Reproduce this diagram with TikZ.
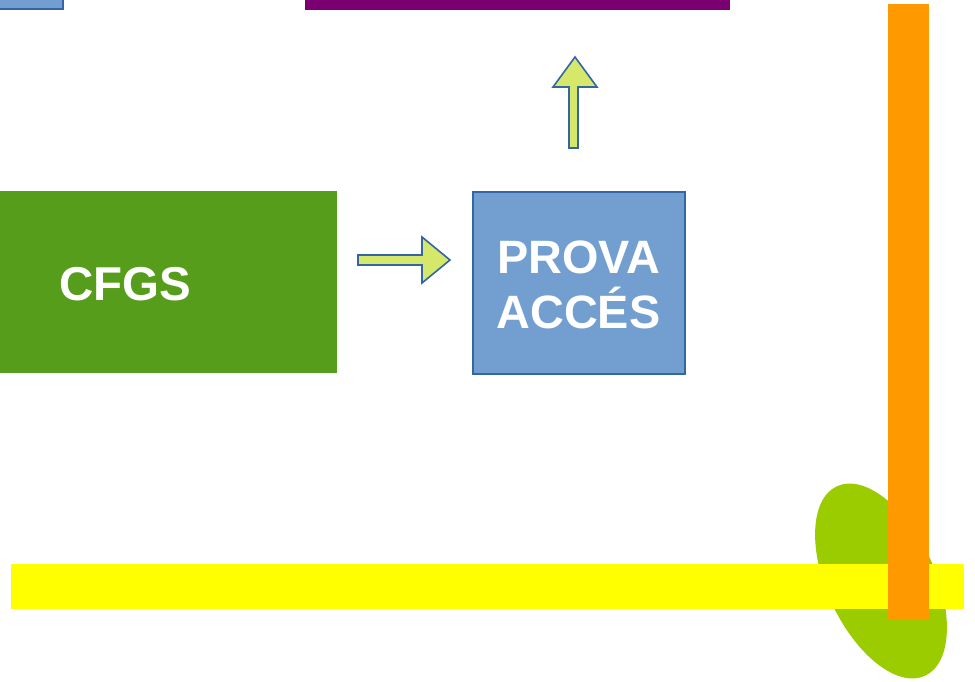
\documentclass[tikz,border=0pt]{standalone}
\usepackage{fontspec}
\setmainfont{Liberation Sans}
\usetikzlibrary{shapes.geometric}
\definecolor{boxblue}{RGB}{114,159,207}
\definecolor{edgeblue}{RGB}{52,101,164}
\definecolor{cfgsgreen}{RGB}{87,157,28}
\definecolor{barpurple}{RGB}{122,0,114}
\definecolor{arrowfill}{RGB}{213,232,108}
\definecolor{barorange}{RGB}{255,153,0}
\definecolor{baryellow}{RGB}{255,255,0}
\definecolor{ellgreen}{RGB}{155,204,0}
\begin{document}
\begin{tikzpicture}[x=1pt,y=-1pt,
  bigtext/.style={text=white,font=\bfseries\fontsize{47.5}{56}\selectfont,inner sep=0pt},
  blockarrow/.style={fill=arrowfill,draw=edgeblue,line width=1.6pt,line join=miter}]
\useasboundingbox (0,0) rectangle (975,681);
\begin{scope}
\clip (0,0) rectangle (975,681);
% top-left blue box
\node[draw=edgeblue,line width=2pt,fill=boxblue,anchor=south east,minimum width=80pt,minimum height=30pt,inner sep=0pt] (topbox) at (64,10) {};
% purple bar
\node[fill=barpurple,anchor=south west,minimum width=425pt,minimum height=20pt,inner sep=0pt] (purple) at (305,10) {};
% green ellipse
\node[fill=ellgreen,ellipse,minimum width=209pt,minimum height=108pt,inner sep=0pt,rotate=-65] (ell) at (881,581) {};
\end{scope}
% CFGS box
\node[fill=cfgsgreen,anchor=north west,minimum width=337pt,minimum height=182pt,inner sep=0pt] (cfgs) at (0,191) {};
\node[bigtext,anchor=base] (cfgstext) at (125,300) {CFGS};
% Prova box
\node[fill=boxblue,draw=edgeblue,line width=1.5pt,anchor=north west,minimum width=212pt,minimum height=182pt,inner sep=0pt] (prova) at (472,191) {};
\node[bigtext,font=\bfseries\fontsize{46.8}{55}\selectfont,anchor=base] (prova1) at (578.5,273) {PROVA};
\node[bigtext,font=\bfseries\fontsize{46.8}{55}\selectfont,anchor=base] (prova2) at (578.5,328) {ACCÉS};
% right arrow
\draw[blockarrow] (358,255) -- (422,255) -- (422,237) -- (450,260) -- (422,283) -- (422,265) -- (358,265) -- cycle;
% up arrow
\draw[blockarrow] (569,148) -- (569,87) -- (553,87) -- (575,57) -- (597,87) -- (578,87) -- (578,148) -- cycle;
% yellow bar
\node[fill=baryellow,anchor=north west,minimum width=953pt,minimum height=45pt,inner sep=0pt] (yellow) at (11,564) {};
% orange bar
\node[fill=barorange,anchor=north west,minimum width=41pt,minimum height=615pt,inner sep=0pt] (orange) at (888,4) {};
\end{tikzpicture}
\end{document}
